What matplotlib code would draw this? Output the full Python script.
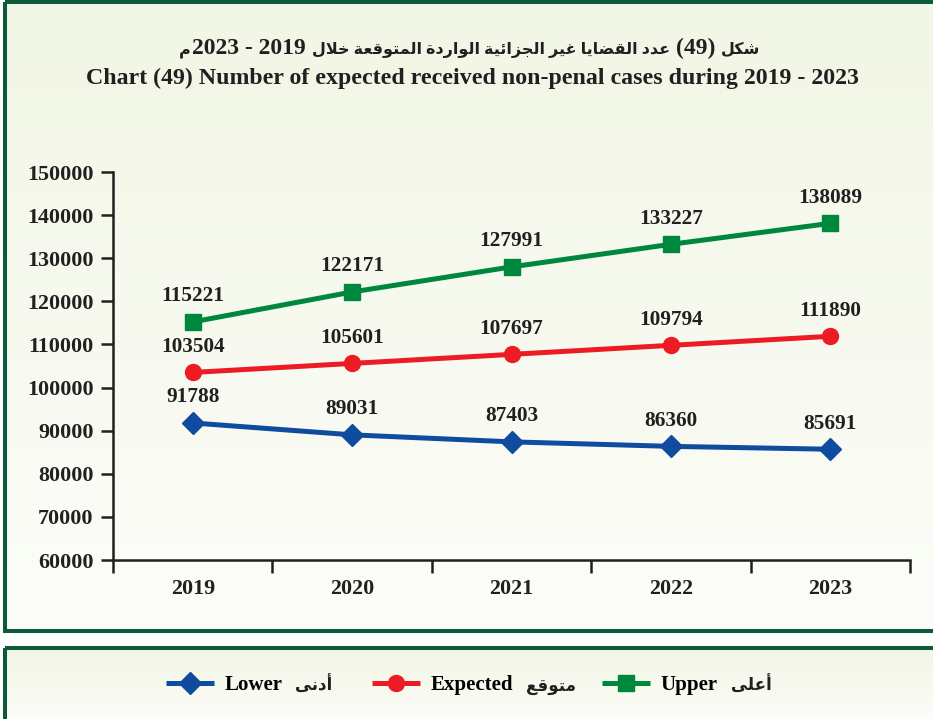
import matplotlib.pyplot as plt
import numpy as np
from matplotlib.patches import Rectangle
import re

years = ['2019', '2020', '2021', '2022', '2023']
lower = [91788, 89031, 87403, 86360, 85691]
expected = [103504, 105601, 107697, 109794, 111890]
upper = [115221, 122171, 127991, 133227, 138089]
y_ticks = [60000, 70000, 80000, 90000, 100000, 110000, 120000, 130000, 140000, 150000]

title_ar = 'شكل (49) عدد القضايا غير الجزائية الواردة المتوقعة خلال 2019 - 2023م'
title_en = 'Chart (49) Number of expected received non-penal cases during 2019 - 2023'
names_en = ['Lower', 'Expected', 'Upper']
names_ar = ['أدنى', 'متوقع', 'أعلى']

INK = '#231F20'
FRAME = '#0C5A3A'
COLORS = ['#0F4C9F', '#ED1C24', '#00873E']
MARKERS = [('D', 11.2), ('o', 11.5), ('s', 11.5)]
FONTS = ['Liberation Serif', 'DejaVu Sans']

# Arabic presentation forms: isolated, final, initial, medial
FORMS = {
    'ا': (0xFE8D, 0xFE8E), 'أ': (0xFE83, 0xFE84),
    'ت': (0xFE95, 0xFE96, 0xFE97, 0xFE98), 'ج': (0xFE9D, 0xFE9E, 0xFE9F, 0xFEA0),
    'خ': (0xFEA5, 0xFEA6, 0xFEA7, 0xFEA8), 'د': (0xFEA9, 0xFEAA),
    'ر': (0xFEAD, 0xFEAE), 'ز': (0xFEAF, 0xFEB0),
    'ش': (0xFEB5, 0xFEB6, 0xFEB7, 0xFEB8), 'ض': (0xFEBD, 0xFEBE, 0xFEBF, 0xFEC0),
    'ع': (0xFEC9, 0xFECA, 0xFECB, 0xFECC), 'غ': (0xFECD, 0xFECE, 0xFECF, 0xFED0),
    'ق': (0xFED5, 0xFED6, 0xFED7, 0xFED8), 'ك': (0xFED9, 0xFEDA, 0xFEDB, 0xFEDC),
    'ل': (0xFEDD, 0xFEDE, 0xFEDF, 0xFEE0), 'م': (0xFEE1, 0xFEE2, 0xFEE3, 0xFEE4),
    'ن': (0xFEE5, 0xFEE6, 0xFEE7, 0xFEE8), 'ة': (0xFE93, 0xFE94),
    'و': (0xFEED, 0xFEEE), 'ى': (0xFEEF, 0xFEF0),
    'ي': (0xFEF1, 0xFEF2, 0xFEF3, 0xFEF4), 'ئ': (0xFE89, 0xFE8A, 0xFE8B, 0xFE8C),
}
LAM_ALEF = {'ا': (0xFEFB, 0xFEFC), 'أ': (0xFEF7, 0xFEF8)}
MIRROR = {'(': ')', ')': '('}


def shape(text):
    out, i, n = [], 0, len(text)
    while i < n:
        c = text[i]
        if c not in FORMS:
            out.append(c)
            i += 1
            continue
        prev = text[i - 1] if i > 0 else ''
        joins_prev = prev in FORMS and len(FORMS[prev]) == 4
        if c == 'ل' and i + 1 < n and text[i + 1] in LAM_ALEF:
            lig = LAM_ALEF[text[i + 1]]
            out.append(chr(lig[1] if joins_prev else lig[0]))
            i += 2
            continue
        nxt = text[i + 1] if i + 1 < n else ''
        f = FORMS[c]
        joins_next = len(f) == 4 and nxt in FORMS
        if joins_prev and joins_next:
            out.append(chr(f[3]))
        elif joins_prev:
            out.append(chr(f[1]))
        elif joins_next:
            out.append(chr(f[2]))
        else:
            out.append(chr(f[0]))
        i += 1
    return ''.join(out)


def rtl(text):
    # shape, then lay out right to left while keeping digit runs in order
    parts = re.findall(r'\d+|\D+', shape(text))
    vis = []
    for p in reversed(parts):
        if p.isdigit():
            vis.append(p)
        else:
            vis.append(''.join(MIRROR.get(ch, ch) for ch in reversed(p)))
    return ''.join(vis)


W, H = 933, 719
fig = plt.figure(figsize=(W / 100, H / 100), dpi=100, facecolor='white')

# background panels in pixel coordinates
bg = fig.add_axes([0, 0, 1, 1])
bg.axis('off')
grad = np.linspace(0, 1, 256)[:, None]
top_c = np.array([242, 246, 229]) / 255
bot_c = np.array([252, 253, 249]) / 255
img = top_c[None, None, :] * (1 - grad[:, :, None]) + bot_c[None, None, :] * grad[:, :, None]
bg.imshow(img, extent=(4, W + 5, 631, 2), aspect='auto', zorder=0)
bg.imshow(img, extent=(4, W + 5, H + 5, 648), aspect='auto', zorder=0)
bg.add_patch(Rectangle((4.5, 1.5), W + 10, 629, fill=False, ec=FRAME, lw=2.9, zorder=1))
bg.add_patch(Rectangle((4.5, 647.5), W + 10, 80, fill=False, ec=FRAME, lw=2.9, zorder=1))
bg.set_xlim(0, W)
bg.set_ylim(H, 0)

fig.text(473 / W, 1 - 78 / H, title_en, ha='center', va='center',
         fontsize=17.2, fontweight='bold', family=FONTS, color=INK)

ax = fig.add_axes([113 / W, 1 - 560 / H, 797 / W, 388 / H])
ax.set_facecolor('none')
x = np.arange(len(years))
handles = []
for series, name_en, color, (mk, ms) in zip(
        [lower, expected, upper], names_en, COLORS, MARKERS):
    h, = ax.plot(x, series, color=color, lw=3.6, marker=mk, ms=ms,
                 mec=color, mfc=color, solid_capstyle='butt', label=name_en)
    handles.append(h)
    for xi, v in zip(x, series):
        ax.annotate(str(v), (xi, v), xytext=(0, 18.5), textcoords='offset points',
                    ha='center', va='center', fontsize=15.3, fontweight='bold',
                    family=FONTS, color=INK)

ax.set_xlim(-0.5, len(years) - 0.5)
ax.set_ylim(60000, 150000)
ax.set_yticks(y_ticks)
ax.set_yticklabels([str(t) for t in y_ticks])
ax.set_xticks(np.arange(-0.5, len(years)))
ax.set_xticklabels([])
ax.set_xticks(x, minor=True)
ax.set_xticklabels(years, minor=True)

for side in ['top', 'right']:
    ax.spines[side].set_visible(False)
for side in ['left', 'bottom']:
    ax.spines[side].set_color(INK)
    ax.spines[side].set_linewidth(1.8)
ax.tick_params(axis='both', which='major', direction='out', length=9, width=1.8,
               color=INK)
ax.tick_params(axis='y', pad=5)
ax.tick_params(axis='x', which='minor', length=0, pad=14)
for lab in ax.get_xticklabels(minor=True) + ax.get_yticklabels():
    lab.set_fontfamily(FONTS)
    lab.set_fontweight('bold')
    lab.set_fontsize(15.8)
    lab.set_color(INK)

leg = fig.legend(handles=handles, loc='center left', bbox_to_anchor=(166 / W, 1 - 685 / H),
                 ncol=3, frameon=False, numpoints=1, handlelength=2.3,
                 handletextpad=0.5, columnspacing=4.3, borderpad=0, borderaxespad=0,
                 prop={'family': FONTS, 'weight': 'bold', 'size': 15})

fig.canvas.draw()
renderer = fig.canvas.get_renderer()

# Arabic names next to the English legend labels
for txt, name_ar in zip(leg.get_texts(), names_ar):
    bb = txt.get_window_extent(renderer)
    fig.text((bb.x1 + 13) / W, (bb.y0 + 4) / H, rtl(name_ar), ha='left', va='baseline',
             fontsize=12, fontweight='bold', family=FONTS, color=INK)

# Arabic title: words and numbers set at their own sizes along one baseline
vis = rtl(title_ar)
pieces = [p.strip() for p in re.split(r'([(\d][\d\s\-()]*[\d)])', vis) if p.strip()]
items = []
for k, p in enumerate(pieces):
    numeric = bool(re.match(r'[(\d]', p))
    t = fig.text(0, 1 - 54 / H, p, ha='left', va='baseline',
                 fontsize=17 if numeric else 11.5, fontweight='bold',
                 family=FONTS, color=INK)
    items.append((t, 1 if k == 1 else (0 if k == 0 else 6)))
widths = [t.get_window_extent(renderer).width for t, _ in items]
total = sum(widths) + sum(g for _, g in items)
cursor = 470 - total / 2
for (t, gap), w in zip(items, widths):
    cursor += gap
    t.set_x(cursor / W)
    cursor += w

fig.savefig('out.png', dpi=100, facecolor='white')
